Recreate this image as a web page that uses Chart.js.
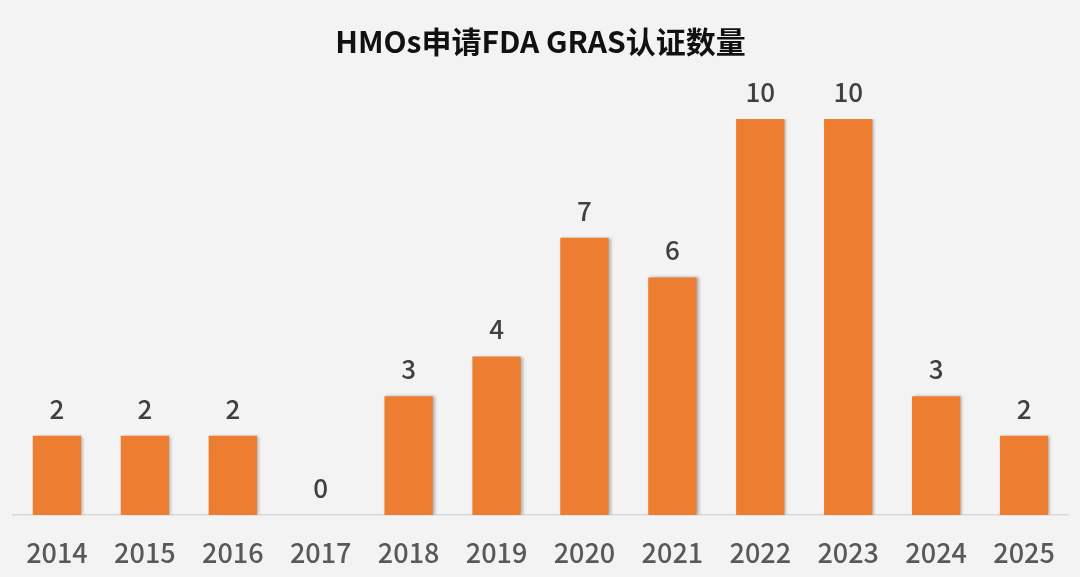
<!DOCTYPE html>
<html>
<head>
<meta charset="utf-8">
<script src="https://cdn.jsdelivr.net/npm/chart.js@4"></script>
<style>
  html, body { margin: 0; padding: 0; background: #f3f3f3; }
  #wrap { width: 1080px; height: 577px; }
</style>
</head>
<body>
<div id="wrap"><canvas id="grafica"></canvas></div>
<script>
const years = ['2014', '2015', '2016', '2017', '2018', '2019', '2020', '2021', '2022', '2023', '2024', '2025'];
const counts = [2, 2, 2, 0, 3, 4, 7, 6, 10, 10, 3, 2];

const FONT = "'Noto Sans CJK SC', 'Noto Sans', sans-serif";

// soft shadow on the bars, like the original
const barShadow = {
  id: 'barShadow',
  beforeDatasetsDraw(chart) {
    const c = chart.ctx;
    c.save();
    c.shadowColor = 'rgba(0,0,0,0.28)';
    c.shadowBlur = 3;
    c.shadowOffsetX = 2;
    c.shadowOffsetY = 0;
  },
  afterDatasetsDraw(chart) {
    chart.ctx.restore();
  }
};

// numbers above the bars
const valueLabels = {
  id: 'valueLabels',
  afterDatasetsDraw(chart) {
    const c = chart.ctx;
    const meta = chart.getDatasetMeta(0);
    c.save();
    c.font = '500 26px ' + FONT;
    c.fillStyle = '#404040';
    c.textAlign = 'center';
    c.textBaseline = 'middle';
    meta.data.forEach(function (bar, i) {
      c.fillText(String(counts[i]), bar.x, bar.y - 27);
    });
    c.restore();
  }
};

const ctx = document.getElementById('grafica').getContext('2d');
new Chart(ctx, {
  type: 'bar',
  data: {
    labels: years,
    datasets: [{
      data: counts,
      backgroundColor: '#ed7d31',
      borderWidth: 0,
      categoryPercentage: 1,
      barPercentage: 0.55
    }]
  },
  options: {
    responsive: true,
    maintainAspectRatio: false,
    animation: false,
    layout: { padding: { left: 13, right: 12, top: 0, bottom: 0 } },
    plugins: {
      legend: { display: false },
      tooltip: { enabled: false },
      title: {
        display: true,
        text: 'HMOs申请FDA GRAS认证数量',
        color: '#111111',
        font: { family: FONT, size: 30, weight: 'bold' },
        padding: { top: 24, bottom: 59 }
      }
    },
    scales: {
      y: {
        display: false,
        min: 0,
        max: 10
      },
      x: {
        grid: { display: false, drawTicks: false },
        border: { display: true, color: '#d9d9d9', width: 1.5 },
        ticks: {
          color: '#595959',
          font: { family: FONT, size: 27, weight: '500' },
          padding: 22
        },
        afterFit(scale) { scale.height = 62; }
      }
    }
  },
  plugins: [barShadow, valueLabels]
});
</script>
</body>
</html>
